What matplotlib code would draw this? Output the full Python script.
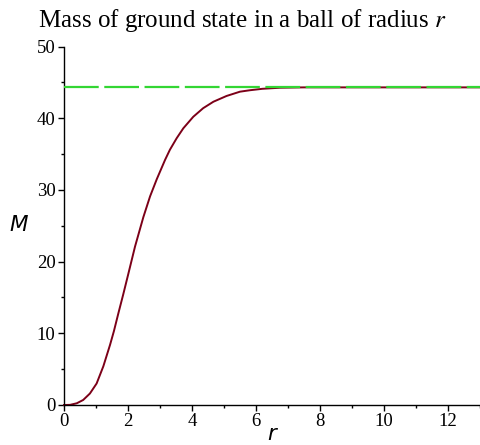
import matplotlib
matplotlib.use("Agg")
import matplotlib.pyplot as plt
from matplotlib.ticker import MultipleLocator

plt.rcParams['lines.scale_dashes'] = False
plt.rcParams['mathtext.fontset'] = 'stix'

# data
r_vals = [0.0, 0.19, 0.4, 0.6, 0.81, 1.02, 1.23, 1.44, 1.56, 1.70, 1.85, 2.0,
          2.22, 2.48, 2.69, 2.90, 3.16, 3.31, 3.52, 3.73, 4.04, 4.35, 4.67,
          5.08, 5.5, 5.81, 6.2, 6.75, 7.5, 8.5, 10.0, 13.0]
M_vals = [0.0, 0.02, 0.24, 0.7, 1.6, 3.0, 5.4, 8.4, 10.3, 12.8, 15.4, 18.1,
          22.1, 26.2, 29.1, 31.5, 34.2, 35.6, 37.2, 38.6, 40.2, 41.4, 42.3,
          43.1, 43.7, 43.9, 44.1, 44.25, 44.3, 44.3, 44.3, 44.3]
asymptote = 44.3

x_limits = (0, 13)
y_limits = (0, 50)
x_ticks = [0, 2, 4, 6, 8, 10, 12]
y_ticks = [0, 10, 20, 30, 40, 50]
title_text = "Mass of ground state in a ball of radius $r$"

fig = plt.figure(figsize=(4.8, 4.45), dpi=100)
ax = fig.add_axes([0.1333, 0.0899, 0.8667, 0.8056])

ax.plot(r_vals, M_vals, color='#7c0018', linewidth=1.4, clip_on=False,
        zorder=2, solid_joinstyle='round')
ax.axhline(asymptote, color='#33d633', linewidth=1.6, linestyle=(0, (25, 4)), zorder=3)

ax.set_xlim(*x_limits)
ax.set_ylim(*y_limits)
ax.set_xticks(x_ticks)
ax.set_yticks(y_ticks)
ax.xaxis.set_minor_locator(MultipleLocator(1))
ax.yaxis.set_minor_locator(MultipleLocator(5))
for s in ('top', 'right'):
    ax.spines[s].set_visible(False)
for s in ('left', 'bottom'):
    ax.spines[s].set_linewidth(1.0)
ax.tick_params(which='major', direction='out', length=4, width=1.0,
               labelsize=13.5, pad=2)
ax.tick_params(which='minor', direction='out', length=2.2, width=1.0)
for lab in ax.get_xticklabels() + ax.get_yticklabels():
    lab.set_fontfamily('Liberation Serif')

fig.text(0.505, 0.985, title_text, ha='center', va='top',
         fontsize=18, family='Liberation Serif')
fig.text(0.038, 0.495, 'M', ha='center', va='center', fontsize=15.5,
         family='DejaVu Sans', style='italic')
fig.text(0.567, 0.002, 'r', ha='center', va='bottom', fontsize=15.5,
         family='DejaVu Sans', style='italic')

fig.savefig('out.png', dpi=100)
